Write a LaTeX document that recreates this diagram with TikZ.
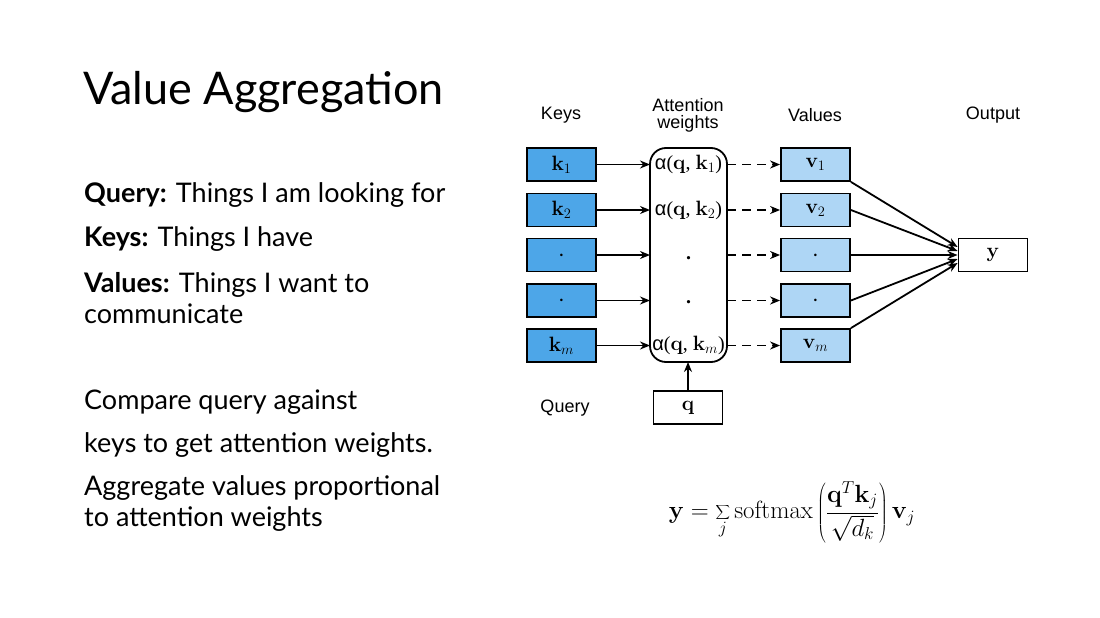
\documentclass[tikz,border=0pt]{standalone}
\usepackage[no-math]{fontspec}
\setmainfont{Lato}
\newfontfamily\arialf{Liberation Sans}
\newfontfamily\timesf{Liberation Serif}
\usetikzlibrary{calc,arrows.meta}
\definecolor{keyblue}{RGB}{77,166,232}
\definecolor{valblue}{RGB}{174,214,245}
\begin{document}
\begin{tikzpicture}[x=1pt,y=-1pt,
  kbox/.style={draw,line width=1.8pt,fill=keyblue,minimum width=69pt,minimum height=33pt,inner sep=0pt,font=\fontsize{20}{20}\selectfont},
  vbox/.style={kbox,fill=valblue},
  wbox/.style={kbox,fill=white},
  lab/.style={font=\arialf\fontsize{18}{20}\selectfont,align=center},
  arr/.style={-{Stealth[length=10pt,width=8pt]},line width=1.8pt},
  darr/.style={arr,dash pattern=on 9pt off 6pt},
  att/.style={font=\timesf\fontsize{20}{20}\selectfont},
  txt/.style={anchor=west,font=\fontsize{27}{31}\selectfont,align=left,inner sep=0pt}]
\useasboundingbox (0,0) rectangle (1100,618);
\fill[white] (0,0) rectangle (1100,618);
% left text
\node[txt,font=\fontsize{45}{48}\selectfont] (title) at (83,92) {Value Aggregation};
\node[txt] (t1) at (84,195) {\textbf{Query:} Things I am looking for};
\node[txt] (t2) at (84,239) {\textbf{Keys:} Things I have};
\node[txt] (t3) at (84,298) {\textbf{Values:} Things I want to\\communicate};
\node[txt] (t4) at (84,402) {Compare query against};
\node[txt] (t5) at (84,445) {keys to get attention weights.};
\node[txt] (t6) at (84,504) {Aggregate values proportional\\to attention weights};
% headers
\node[lab] (hk) at (561,115) {Keys};
\node[lab] (ha) at (688,115) {Attention\\[-3pt]weights};
\node[lab] (hv) at (815,115) {Values};
\node[lab] (ho) at (993,115) {Output};
\node[lab] (hq) at (565,408) {Query};
% keys
\node[kbox] (k1) at (561.5,164.5) {$\mathbf{k}_1$};
\node[kbox] (k2) at (561.5,210) {$\mathbf{k}_2$};
\node[kbox] (k3) at (561.5,255) {.};
\node[kbox] (k4) at (561.5,300.5) {.};
\node[kbox] (km) at (561.5,345.5) {$\mathbf{k}_m$};
% attention
\draw[line width=1.8pt,rounded corners=16pt] (650,148) rectangle (727,362);
\coordinate (aw) at (650,0);
\coordinate (ae) at (727,0);
\node[att] (a1) at (688.5,164.5) {\arialf α\timesf($\mathbf{q}$, $\mathbf{k}_1$)};
\node[att] (a2) at (688.5,210) {\arialf α\timesf($\mathbf{q}$, $\mathbf{k}_2$)};
\node[att] (a3) at (688.5,258) {\textbf{.}};
\node[att] (a4) at (688.5,302) {\textbf{.}};
\node[att] (am) at (688.5,345.5) {\arialf α\timesf($\mathbf{q}$, $\mathbf{k}_m$)};
\coordinate (abot) at (688,362);
% values
\node[vbox] (v1) at (815.5,164.5) {$\mathbf{v}_1$};
\node[vbox] (v2) at (815.5,210) {$\mathbf{v}_2$};
\node[vbox] (v3) at (815.5,255) {.};
\node[vbox] (v4) at (815.5,300.5) {.};
\node[vbox] (vm) at (815.5,345.5) {$\mathbf{v}_m$};
% output, query
\node[wbox] (y) at (993,255) {$\mathbf{y}$};
\node[wbox] (q) at (688,407.5) {$\mathbf{q}$};
% arrows
\foreach \k/\v/\a in {k1/v1/a1,k2/v2/a2,k3/v3/a3,k4/v4/a4,km/vm/am}{
  \draw[arr] (\k.east) -- (aw |- \k.east);
  \draw[darr] (ae |- \k.east) -- (\v.west);
}
\draw[arr] (q.north) -- (abot);
\draw[arr] (v1.south east) -- ($(y.west)+(0,-8)$);
\draw[arr] (v2.east) -- ($(y.west)+(0,-4)$);
\draw[arr] (v3.east) -- (y.west);
\draw[arr] (v4.east) -- ($(y.west)+(0,4)$);
\draw[arr] (vm.north east) -- ($(y.west)+(0,8)$);
% formula
\node (f) at (792,512) {\fontsize{27}{30}\selectfont $\displaystyle \mathbf{y}=\sum_j \mathrm{softmax}\left(\frac{\mathbf{q}^T\mathbf{k}_j}{\sqrt{d_k}}\right)\mathbf{v}_j$};
\end{tikzpicture}
\end{document}
